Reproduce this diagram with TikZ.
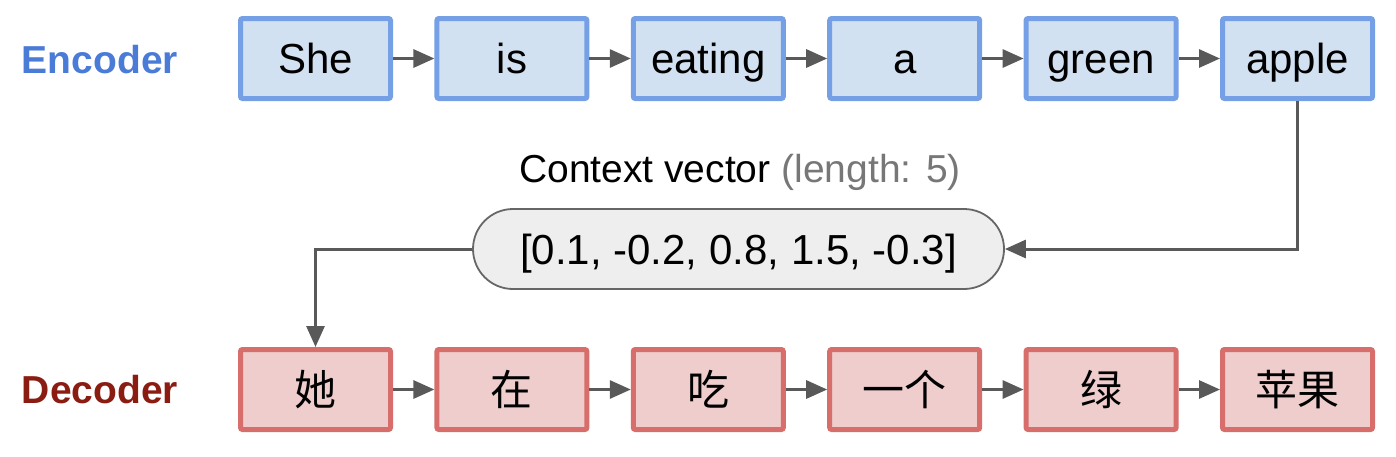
\documentclass[tikz,border=0pt]{standalone}
\usepackage{fontspec}
\setmainfont{Liberation Sans}
\newfontfamily\cjk{Noto Sans CJK SC}
\usetikzlibrary{arrows.meta}
\definecolor{encfill}{HTML}{D2E1F1}
\definecolor{encdraw}{HTML}{76A0E6}
\definecolor{decfill}{HTML}{EECDCC}
\definecolor{decdraw}{HTML}{D76E6B}
\definecolor{enclab}{HTML}{4A7BD6}
\definecolor{declab}{HTML}{8A1C12}
\definecolor{arrcol}{HTML}{595959}
\definecolor{vecfill}{HTML}{EEEEEE}
\definecolor{vecdraw}{HTML}{666666}
\definecolor{lengthgray}{HTML}{777777}
\tikzset{
  wordbox/.style={rectangle, rounded corners=2pt, line width=5pt, minimum width=150pt, minimum height=80pt,
    inner sep=0pt, text height=30pt, text depth=0pt, font=\fontsize{42}{50}\selectfont},
  encbox/.style={wordbox, fill=encfill, draw=encdraw},
  decbox/.style={wordbox, fill=decfill, draw=decdraw, text height=32pt, font=\fontsize{42}{50}\selectfont\cjk},
  sidelabel/.style={font=\fontsize{39}{46}\selectfont\bfseries, inner sep=0pt, text height=28pt, text depth=0pt},
  arr/.style={draw=arrcol, line width=3pt, -{Triangle[length=21pt,width=18pt]}},
  vecbox/.style={rectangle, rounded corners=40pt, fill=vecfill, draw=vecdraw, line width=1.8pt,
    minimum width=531pt, minimum height=80pt, inner sep=0pt, text height=30pt, text depth=0pt,
    font=\fontsize{42}{50}\selectfont},
  ctxlabel/.style={font=\fontsize{39}{46}\selectfont, inner sep=0pt, text height=27pt, text depth=0pt}
}
\begin{document}
\begin{tikzpicture}[x=1pt,y=-1pt]
\useasboundingbox (0,0) rectangle (1396,456);
% labels
\node[sidelabel, text=enclab] (enc) at (100,59) {Encoder};
\node[sidelabel, text=declab] (dec) at (100,389) {Decoder};
% encoder boxes
\node[encbox] (e1) at (315.5,58.5) {She};
\node[encbox] (e2) at (511.9,58.5) {is};
\node[encbox] (e3) at (708.3,58.5) {eating};
\node[encbox] (e4) at (904.7,58.5) {a};
\node[encbox] (e5) at (1101.1,58.5) {green};
\node[encbox] (e6) at (1297.5,58.5) {apple};
% decoder boxes
\node[decbox] (d1) at (315.5,389.5) {她};
\node[decbox] (d2) at (511.9,389.5) {在};
\node[decbox] (d3) at (708.3,389.5) {吃};
\node[decbox] (d4) at (904.7,389.5) {一个};
\node[decbox] (d5) at (1101.1,389.5) {绿};
\node[decbox] (d6) at (1297.5,389.5) {苹果};
% context vector
\node[ctxlabel] (ctx) at (740,168.5) {Context vector \textcolor{lengthgray}{(length: 5)}};
\node[vecbox] (vec) at (738.5,249) {[0.1, -0.2, 0.8, 1.5, -0.3]};
% arrows
\foreach \a/\b in {e1/e2,e2/e3,e3/e4,e4/e5,e5/e6,d1/d2,d2/d3,d3/d4,d4/d5,d5/d6}
  \draw[arr] (\a.east) -- (\b.west);
\draw[arr] (e6.south) -- (e6.south |- vec.east) -- (vec.east);
\draw[arr] (vec.west) -| (d1.north);
\end{tikzpicture}
\end{document}
